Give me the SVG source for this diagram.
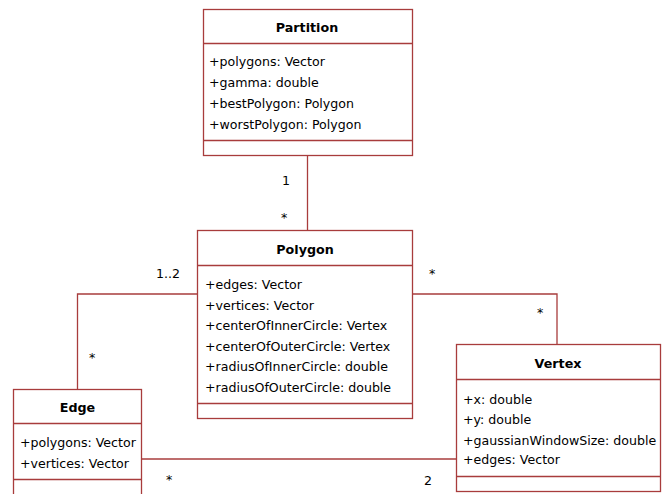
<svg xmlns="http://www.w3.org/2000/svg" width="667" height="494" viewBox="0 0 667 494">
<style>
.box{fill:#fff;stroke:#a83c3c;stroke-width:1.3}
.sep{stroke:#a83c3c;stroke-width:1.3}
.con{fill:none;stroke:#a83c3c;stroke-width:1.3}
.t{font-family:"DejaVu Sans",Verdana,sans-serif;font-size:12.6px;fill:#000}
.h{font-family:"DejaVu Sans",Verdana,sans-serif;font-size:12.7px;font-weight:bold;fill:#000;text-anchor:middle}
.m{font-family:"DejaVu Sans",Verdana,sans-serif;font-size:12.6px;fill:#000}
</style>
<rect width="667" height="494" fill="#fff"/>
<g id="connectors">
<path class="con" d="M307.5 155.5 V230.5"/>
<path class="con" d="M197.5 294 H77.5 V389"/>
<path class="con" d="M412.5 294 H557 V344.5"/>
<path class="con" d="M141.5 459 H456.5"/>
<text class="m" x="282" y="185">1</text>
<text class="m" x="281" y="222">*</text>
<text class="m" x="156" y="278">1..2</text>
<text class="m" x="89" y="362">*</text>
<text class="m" x="429" y="278">*</text>
<text class="m" x="537" y="317">*</text>
<text class="m" x="166" y="484">*</text>
<text class="m" x="424" y="485">2</text>
</g>
<g id="Partition">
<rect class="box" x="203.5" y="9.5" width="209" height="146"/>
<line class="sep" x1="203.5" y1="43.5" x2="412.5" y2="43.5"/>
<line class="sep" x1="203.5" y1="140.5" x2="412.5" y2="140.5"/>
<text class="h" x="307" y="32">Partition</text>
<text class="t" x="209" y="66">+polygons: Vector</text>
<text class="t" x="209" y="87">+gamma: double</text>
<text class="t" x="209" y="108">+bestPolygon: Polygon</text>
<text class="t" x="209" y="129">+worstPolygon: Polygon</text>
</g>
<g id="Polygon">
<rect class="box" x="197.5" y="230.5" width="215" height="188"/>
<line class="sep" x1="197.5" y1="265.5" x2="412.5" y2="265.5"/>
<line class="sep" x1="197.5" y1="403.5" x2="412.5" y2="403.5"/>
<text class="h" x="305" y="254">Polygon</text>
<text class="t" x="205" y="289">+edges: Vector</text>
<text class="t" x="205" y="309.5">+vertices: Vector</text>
<text class="t" x="205" y="330">+centerOfInnerCircle: Vertex</text>
<text class="t" x="205" y="351">+centerOfOuterCircle: Vertex</text>
<text class="t" x="205" y="371">+radiusOfInnerCircle: double</text>
<text class="t" x="205" y="392">+radiusOfOuterCircle: double</text>
</g>
<g id="Edge">
<rect class="box" x="13.5" y="389.5" width="128" height="110"/>
<line class="sep" x1="13.5" y1="423.5" x2="141.5" y2="423.5"/>
<line class="sep" x1="13.5" y1="479.5" x2="141.5" y2="479.5"/>
<text class="h" x="77.5" y="412">Edge</text>
<text class="t" x="20" y="447">+polygons: Vector</text>
<text class="t" x="20" y="467.5">+vertices: Vector</text>
</g>
<g id="Vertex">
<rect class="box" x="456.5" y="344.5" width="204" height="147"/>
<line class="sep" x1="456.5" y1="379.5" x2="660.5" y2="379.5"/>
<line class="sep" x1="456.5" y1="476.5" x2="660.5" y2="476.5"/>
<text class="h" x="558" y="368">Vertex</text>
<text class="t" x="463" y="403.5">+x: double</text>
<text class="t" x="463" y="424">+y: double</text>
<text class="t" x="463" y="444.5">+gaussianWindowSize: double</text>
<text class="t" x="463" y="464">+edges: Vector</text>
</g>
</svg>
